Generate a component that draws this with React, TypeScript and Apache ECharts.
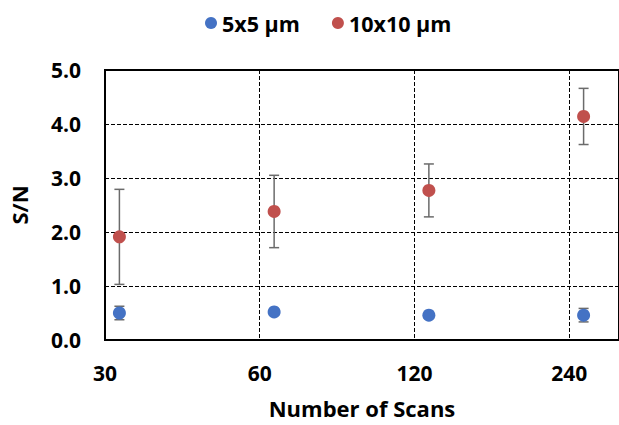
import React, { useEffect, useRef } from 'react';
import * as echarts from 'echarts';

const scans = [32, 64, 128, 256];
const tickScans = [30, 60, 120, 240];
const X_MIN = 30;
const X_MAX = 300;
const seriesNames = ['5x5 µm', '10x10 µm'];
const sn5 = [0.5, 0.52, 0.46, 0.46];
const err5 = [0.125, 0.06, 0.05, 0.125];
const sn10 = [1.91, 2.38, 2.77, 4.14];
const err10 = [0.88, 0.67, 0.49, 0.52];
const yMin = 0;
const yMax = 5;
const yStep = 1;

const FONT = 'Open Sans';
const toU = (v: number) => Math.log2(v / X_MIN);

export default function App() {
  const ref = useRef<HTMLDivElement>(null);
  useEffect(() => {
    if (!ref.current) return;
    const chart = echarts.init(ref.current, undefined, { renderer: 'svg' });
    const tickU = tickScans.map(toU);
    const errData = (vals: number[], errs: number[]) =>
      scans.map((s, i) => [toU(s), vals[i], errs[i]]);
    const renderErr = (params: any, api: any) => {
      const x = api.value(0);
      const y = api.value(1);
      const e = api.value(2);
      const top = api.coord([x, y + e]);
      const bot = api.coord([x, y - e]);
      const hw = 5;
      const style = { stroke: '#6b6b6b', lineWidth: 1.5 };
      return {
        type: 'group',
        children: [
          { type: 'line', shape: { x1: top[0], y1: top[1], x2: bot[0], y2: bot[1] }, style },
          { type: 'line', shape: { x1: top[0] - hw, y1: top[1], x2: top[0] + hw, y2: top[1] }, style },
          { type: 'line', shape: { x1: bot[0] - hw, y1: bot[1], x2: bot[0] + hw, y2: bot[1] }, style },
        ],
      };
    };
    const text = { fontFamily: FONT, fontWeight: 'bold', fontSize: 22, color: '#000' };
    const tickText = { fontFamily: FONT, fontWeight: 'bold', fontSize: 21, color: '#000' };
    const option: any = {
      animation: false,
      backgroundColor: '#fff',
      textStyle: { fontFamily: FONT },
      legend: {
        data: seriesNames,
        top: 7,
        left: 200,
        icon: 'circle',
        itemWidth: 12,
        itemHeight: 12,
        itemGap: 32,
        itemStyle: { opacity: 1 },
        textStyle: { ...text, fontSize: 21.5 },
      },
      grid: {
        left: 103.5,
        top: 70,
        bottom: 85,
        right: -6.3,
        show: true,
        borderColor: '#000',
        borderWidth: 2,
        containLabel: false,
      },
      xAxis: {
        type: 'value',
        min: 0,
        max: toU(X_MAX),
        interval: 1,
        name: 'Number of Scans',
        nameLocation: 'middle',
        nameGap: 57,
        nameTextStyle: { ...text },
        axisLine: { show: true, lineStyle: { color: '#000', width: 2 } },
        axisTick: { show: false },
        axisLabel: {
          margin: 22,
          ...tickText,
          showMaxLabel: false,
          formatter: (v: number) => {
            const idx = tickU.findIndex((t) => Math.abs(t - v) < 1e-6);
            return idx >= 0 ? String(tickScans[idx]) : '';
          },
        },
        splitLine: { show: true, lineStyle: { color: '#000', width: 1, type: [4, 2] } },
      },
      yAxis: {
        type: 'value',
        min: yMin,
        max: yMax,
        interval: yStep,
        name: 'S/N',
        nameLocation: 'middle',
        nameRotate: 90,
        nameGap: 75,
        nameTextStyle: { ...text },
        axisLine: { show: true, lineStyle: { color: '#000', width: 2 } },
        axisTick: { show: false },
        axisLabel: {
          margin: 24,
          ...tickText,
          formatter: (v: number) => v.toFixed(1),
        },
        splitLine: { show: true, lineStyle: { color: '#000', width: 1, type: [4, 2] } },
      },
      series: [
        {
          type: 'custom',
          name: 'err5',
          renderItem: renderErr,
          data: errData(sn5, err5),
          encode: { x: 0, y: 1 },
          z: 1,
          silent: true,
        },
        {
          type: 'custom',
          name: 'err10',
          renderItem: renderErr,
          data: errData(sn10, err10),
          encode: { x: 0, y: 1 },
          z: 1,
          silent: true,
        },
        {
          type: 'scatter',
          name: seriesNames[0],
          data: scans.map((s, i) => [toU(s), sn5[i]]),
          symbol: 'circle',
          symbolSize: 13,
          itemStyle: { color: '#4472C4', opacity: 1 },
          z: 3,
        },
        {
          type: 'scatter',
          name: seriesNames[1],
          data: scans.map((s, i) => [toU(s), sn10[i]]),
          symbol: 'circle',
          symbolSize: 13,
          itemStyle: { color: '#C0504D', opacity: 1 },
          z: 3,
        },
      ],
    };
    chart.setOption(option);
    return () => chart.dispose();
  }, []);
  return (
    <div
      ref={ref}
      style={{ position: 'fixed', left: 0, top: 0, width: 619, height: 425 }}
    />
  );
}
